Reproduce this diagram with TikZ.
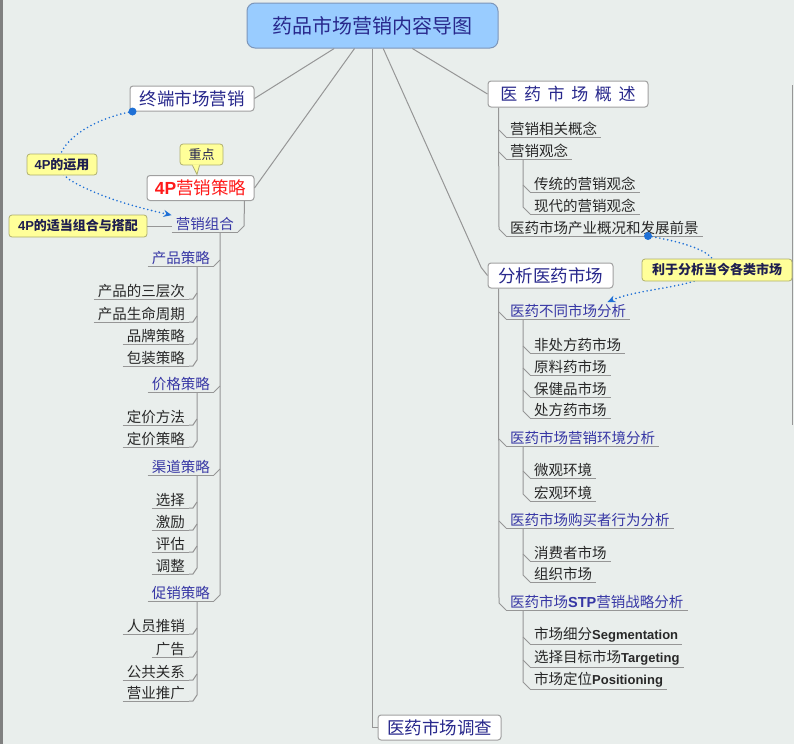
\documentclass[tikz,border=0pt]{standalone}
\usepackage{fontspec}
\setmainfont{Noto Sans CJK SC}
\newfontfamily\latfont{Liberation Sans}
\newfontfamily\widefont{Noto Sans CJK SC}[LetterSpace=39]
\usepackage{tikz}
\usetikzlibrary{arrows.meta}
\definecolor{bgc}{RGB}{233,238,236}
\definecolor{rootfill}{RGB}{153,204,255}
\definecolor{rootline}{RGB}{125,150,185}
\definecolor{navy}{RGB}{40,40,140}
\definecolor{subblue}{RGB}{55,55,165}
\definecolor{leafc}{RGB}{40,40,40}
\definecolor{linec}{RGB}{150,150,150}
\definecolor{boxline}{RGB}{160,160,160}
\definecolor{notefill}{RGB}{255,255,153}
\definecolor{noteline}{RGB}{175,175,110}
\definecolor{notetext}{RGB}{30,30,80}
\definecolor{relc}{RGB}{30,112,214}
\definecolor{redc}{RGB}{255,25,25}

\begin{document}
\begin{tikzpicture}[
  x=1pt, y=-1pt,
  rootbox/.style={draw=rootline, fill=rootfill, rounded corners=8pt, line width=1pt,
                  minimum width=251pt, minimum height=45pt, inner sep=0pt, text=navy,
                  font=\fontsize{20}{24}\selectfont},
  mainbox/.style={draw=boxline, fill=white, rounded corners=3pt, line width=1pt,
                  minimum height=25pt, inner sep=0pt, text=navy, font=\fontsize{17.5}{21}\selectfont},
  uline/.style={draw=linec, line width=1pt},
  item/.style={inner xsep=4pt, inner ysep=1.5pt, font=\fontsize{14.5}{17}\selectfont,
               append after command={(\tikzlastnode.south west) edge[uline] (\tikzlastnode.south east)}},
  rsub/.style={item, anchor=south west, text=subblue},
  rleaf/.style={item, anchor=south west, text=leafc},
  lsub/.style={item, anchor=south east, text=subblue},
  lleaf/.style={item, anchor=south east, text=leafc},
  treeline/.style={draw=linec, line width=1pt},
  notebox/.style={draw=noteline, fill=notefill, rounded corners=3pt, line width=0.8pt,
                  inner sep=0pt, text=notetext, font=\fontsize{13}{15}\selectfont},
  boldnote/.style={notebox, font=\fontsize{13}{15}\selectfont\bfseries},
  relline/.style={draw=relc, line width=1.8pt, dash pattern=on 0pt off 4pt, line cap=round},
  reltip/.style={-{Stealth[length=8pt, width=7pt]}}
]
\fill[bgc] (0,0) rectangle (794,744);
\fill[black!50] (0,0) rectangle (3,744);
\draw[linec, line width=0.8pt] (792,85) -- (792,425);

\node[rootbox] (root) at (372.5,25.5) {药品市场营销内容导图};
\node[mainbox, minimum width=124pt] (term) at (192,98.5) {终端市场营销};
\node[mainbox, minimum width=107pt, text=redc] (fourp) at (200.5,188) {{\latfont\bfseries 4P}营销策略};
\node[mainbox, minimum width=160pt, minimum height=26pt, font=\widefont\fontsize{17}{21}\selectfont] (over) at (568,94) {医药市场概述};
\node[mainbox, minimum width=125pt] (anal) at (550.5,275.5) {分析医药市场};
\node[mainbox, minimum width=123pt] (surv) at (439.5,727.5) {医药市场调查};

\draw[treeline] (root.211) -- (term.east);
\draw[treeline] (root.232) -- (fourp.east);
\draw[treeline] (root.south) |- (surv.west);
\draw[treeline] (root.295) -- ++(98,219) -- (anal.west);
\draw[treeline] (root.330) -- (over.west);

\node[rleaf] (oc1) at (506,137) {营销相关概念};
\node[rleaf] (oc2) at (506,159) {营销观念};
\node[rleaf] (og1) at (530,192) {传统的营销观念};
\node[rleaf] (og2) at (530,214) {现代的营销观念};
\node[rleaf] (oc3) at (506,236) {医药市场产业概况和发展前景};
\coordinate (ospine) at ([xshift=11pt]over.south west);
\draw[treeline] (oc1.south west) -- ++(-7,-7);
\draw[treeline] (oc2.south west) -- ++(-7,-7);
\draw[treeline] (oc3.south west) -- ++(-7,-7) -- (ospine);
\draw[treeline] (og1.south west) -- ++(-7,-7);
\draw[treeline] (og2.south west) -- ++(-7,-7) -- ([xshift=17pt]oc2.south west);

\node[rsub] (ad1) at (506,319) {医药不同市场分析};
\node[rleaf] (ad1a) at (530,353) {非处方药市场};
\node[rleaf] (ad1b) at (530,375) {原料药市场};
\node[rleaf] (ad1c) at (530,397) {保健品市场};
\node[rleaf] (ad1d) at (530,418) {处方药市场};
\node[rsub] (ad2) at (506,446) {医药市场营销环境分析};
\node[rleaf] (ad2a) at (530,478) {微观环境};
\node[rleaf] (ad2b) at (530,501) {宏观环境};
\node[rsub] (ad3) at (506,528) {医药市场购买者行为分析};
\node[rleaf] (ad3a) at (530,561) {消费者市场};
\node[rleaf] (ad3b) at (530,582) {组织市场};
\node[rsub] (ad4) at (506,610) {医药市场{\latfont\bfseries STP}营销战略分析};
\node[rleaf] (ad4a) at (530,644) {市场细分{\latfont\bfseries\fontsize{13}{15}\selectfont Segmentation}};
\node[rleaf] (ad4b) at (530,667) {选择目标市场{\latfont\bfseries\fontsize{13}{15}\selectfont Targeting}};
\node[rleaf] (ad4c) at (530,689) {市场定位{\latfont\bfseries\fontsize{13}{15}\selectfont Positioning}};
\coordinate (aspine) at ([xshift=11pt]anal.south west);
\draw[treeline] (ad1.south west) -- ++(-7,-7);
\draw[treeline] (ad2.south west) -- ++(-7,-7);
\draw[treeline] (ad3.south west) -- ++(-7,-7);
\draw[treeline] (ad4.south west) -- ++(-7,-7) -- (aspine);
\draw[treeline] (ad1a.south west) -- ++(-7,-7);
\draw[treeline] (ad1b.south west) -- ++(-7,-7);
\draw[treeline] (ad1c.south west) -- ++(-7,-7);
\draw[treeline] (ad1d.south west) -- ++(-7,-7) -- ([xshift=17pt]ad1.south west);
\draw[treeline] (ad2a.south west) -- ++(-7,-7);
\draw[treeline] (ad2b.south west) -- ++(-7,-7) -- ([xshift=17pt]ad2.south west);
\draw[treeline] (ad3a.south west) -- ++(-7,-7);
\draw[treeline] (ad3b.south west) -- ++(-7,-7) -- ([xshift=17pt]ad3.south west);
\draw[treeline] (ad4a.south west) -- ++(-7,-7);
\draw[treeline] (ad4b.south west) -- ++(-7,-7);
\draw[treeline] (ad4c.south west) -- ++(-7,-7) -- ([xshift=17pt]ad4.south west);

\node[lsub] (mix) at (238,232) {营销组合};
\coordinate (fspine) at ([xshift=-10pt]fourp.south east);
\draw[treeline] (mix.south east) -- ++(6,-6) -- (fspine);

\node[lsub] (prod) at (214,266) {产品策略};
\node[lleaf] (p1) at (189,299) {产品的三层次};
\node[lleaf] (p2) at (189,322) {产品生命周期};
\node[lleaf] (p3) at (189,344) {品牌策略};
\node[lleaf] (p4) at (189,366) {包装策略};
\node[lsub] (price) at (214,392) {价格策略};
\node[lleaf] (r1) at (189,425) {定价方法};
\node[lleaf] (r2) at (189,447) {定价策略};
\node[lsub] (chan) at (214,475) {渠道策略};
\node[lleaf] (c1) at (189,508) {选择};
\node[lleaf] (c2) at (189,530) {激励};
\node[lleaf] (c3) at (189,552) {评估};
\node[lleaf] (c4) at (189,574) {调整};
\node[lsub] (prom) at (214,601) {促销策略};
\node[lleaf] (m1) at (189,634) {人员推销};
\node[lleaf] (m2) at (189,657) {广告};
\node[lleaf] (m3) at (189,680) {公共关系};
\node[lleaf] (m4) at (189,701) {营业推广};
\coordinate (mspine) at ([xshift=-18pt]mix.south east);
\draw[treeline] (prod.south east) -- ++(6,-6);
\draw[treeline] (price.south east) -- ++(6,-6);
\draw[treeline] (chan.south east) -- ++(6,-6);
\draw[treeline] (prom.south east) -- ++(6,-6) -- (mspine);
\draw[treeline] (p1.south east) -- ++(4,0) -- ++(4,-6);
\draw[treeline] (p2.south east) -- ++(4,0) -- ++(4,-6);
\draw[treeline] (p3.south east) -- ++(4,0) -- ++(4,-6);
\draw[treeline] (p4.south east) -- ++(4,0) -- ++(4,-6) -- ([xshift=-17pt]prod.south east);
\draw[treeline] (r1.south east) -- ++(4,0) -- ++(4,-6);
\draw[treeline] (r2.south east) -- ++(4,0) -- ++(4,-6) -- ([xshift=-17pt]price.south east);
\draw[treeline] (c1.south east) -- ++(4,0) -- ++(4,-6);
\draw[treeline] (c2.south east) -- ++(4,0) -- ++(4,-6);
\draw[treeline] (c3.south east) -- ++(4,0) -- ++(4,-6);
\draw[treeline] (c4.south east) -- ++(4,0) -- ++(4,-6) -- ([xshift=-17pt]chan.south east);
\draw[treeline] (m1.south east) -- ++(4,0) -- ++(4,-6);
\draw[treeline] (m2.south east) -- ++(4,0) -- ++(4,-6);
\draw[treeline] (m3.south east) -- ++(4,0) -- ++(4,-6);
\draw[treeline] (m4.south east) -- ++(4,0) -- ++(4,-6) -- ([xshift=-17pt]prom.south east);

\fill[relc] ([xshift=3pt]term.south west) circle (4pt);
\draw[relline, reltip] ([xshift=3pt]term.south west) .. controls (75,122) and (40,160) .. (70,180)
  .. controls (100,198) and (140,208) .. (mix.north west);
\fill[relc] ([xshift=142pt]oc3.south west) circle (4pt);
\draw[relline, reltip] ([xshift=142pt]oc3.south west) .. controls (690,243) and (725,255) .. (712,272)
  .. controls (695,288) and (640,288) .. ([xshift=-23pt]ad1.north east);

\node[notebox, minimum width=43pt, minimum height=21pt] (key) at (201.5,154.5) {重点};
\fill[notefill] ([xshift=-9pt,yshift=1pt]key.south) -- ([xshift=-4.5pt,yshift=-9pt]key.south)
  -- ([xshift=-2pt,yshift=1pt]key.south) -- cycle;
\draw[noteline, line width=0.8pt] ([xshift=-9pt]key.south) -- ([xshift=-4.5pt,yshift=-9pt]key.south)
  -- ([xshift=-2pt]key.south);
\node[boldnote, minimum width=70pt, minimum height=21pt] (use4p) at (62,164.5) {{\latfont 4P}的运用};
\node[boldnote, minimum width=138pt, minimum height=22pt] (combo) at (78,226) {{\latfont 4P}的适当组合与搭配};
\draw[treeline] (combo.east) -- (combo.east -| mix.west);
\node[boldnote, minimum width=150pt, minimum height=22pt] (gain) at (717,270) {利于分析当今各类市场};
\end{tikzpicture}
\end{document}
